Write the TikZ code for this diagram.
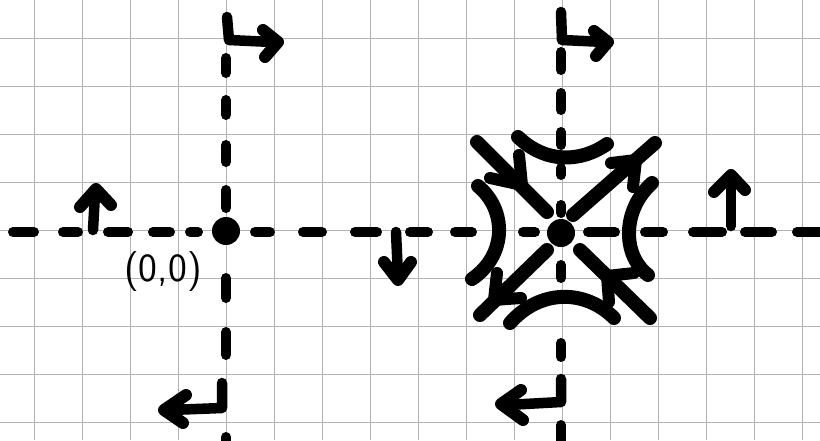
\documentclass[tikz,border=0pt]{standalone}
\begin{document}
\begin{tikzpicture}[x=1pt,y=-1pt,
  gridline/.style={draw=gray!60,line width=0.6pt},
  axisdash/.style={line width=10pt,line cap=round},
  heavy/.style={line width=14pt,line cap=round,line join=round},
  headstroke/.style={line width=12pt,line cap=round,line join=round},
  arrowline/.style={line width=10.5pt,line cap=round,line join=round},
]
\useasboundingbox[fill=white] (0,0) rectangle (820,440);
% grid
\foreach \x in {34,82,...,802} \draw[gridline] (\x,0) -- (\x,440);
\foreach \y in {38,86,...,422} \draw[gridline] (0,\y) -- (820,\y);
% horizontal dashed axis
\foreach \a/\b in {8/39,58/83,103/133,148/175,185/203,250/275,298/327,350/382,405/433,450/477,518/540,583/620,640/668,688/727,740/777,792/825}
  \draw[axisdash] (\a+5,232) -- (\b-5,232);
% vertical dashed lines
\foreach \a/\b in {53/78,95/120,140/167,185/213,273/303,327/360,432/450}
  \draw[axisdash] (226,\a+5) -- (226,\b-5);
\foreach \a/\b in {47/75,88/115,127/150,163/180,200/218,260/283,338/362,420/450}
  \draw[axisdash] (561,\a+5) -- (561,\b-5);
% equilibrium points
\fill (226,231) circle[radius=14pt];
\fill (561,233) circle[radius=14pt];
% label
\node[font=\sffamily\fontsize{40}{42}\selectfont,inner sep=0pt] (origin) at (163,272) {(0,0)};
% small arrows on horizontal axis
\draw[arrowline] (93,230) -- (95,194);
\draw[headstroke] (80,207) -- (96,189) -- (111,205);
\draw[arrowline] (396,232) -- (398,276);
\draw[headstroke] (384,262) -- (398,280) -- (411,262);
\draw[arrowline] (731,226) -- (731,182);
\draw[headstroke] (714,192) -- (731,175) -- (745,190);
% L-shaped arrows
\draw[arrowline] (227,17) -- (229,40) -- (272,42);
\draw[headstroke] (263,30) -- (278,42) -- (265,57);
\draw[arrowline] (561,12) -- (562,40) -- (605,42);
\draw[headstroke] (594,31) -- (608,42) -- (596,56);
\draw[arrowline] (222,383) -- (222,408) -- (170,410);
\draw[headstroke] (186,395) -- (164,410) -- (183,423);
\draw[arrowline] (561,379) -- (561,402) -- (507,405);
\draw[headstroke] (521,390) -- (501,404) -- (523,420);
% saddle: hyperbolic arcs
\draw[heavy] (518,137) .. controls (545,163) and (580,163) .. (607,144);
\draw[heavy] (510,323) .. controls (540,289) and (585,289) .. (614,318);
\draw[heavy] (478,186) .. controls (507,210) and (507,255) .. (472,279);
\draw[heavy] (652,183) .. controls (622,210) and (622,255) .. (648,275);
% saddle: separatrices
\draw[heavy] (477,142) -- (547,212);
\draw[heavy] (580,250) -- (650,318);
\draw[heavy] (573,215) -- (655,143);
\draw[heavy] (547,250) -- (480,315);
\draw[headstroke] (519,155) -- (522,185) -- (490,178);
\draw[headstroke] (634,273) -- (607,276) -- (609,302);
\draw[headstroke] (611,163) -- (636,160) -- (633,187);
\draw[headstroke] (497,273) -- (494,300) -- (521,298);
\end{tikzpicture}
\end{document}
